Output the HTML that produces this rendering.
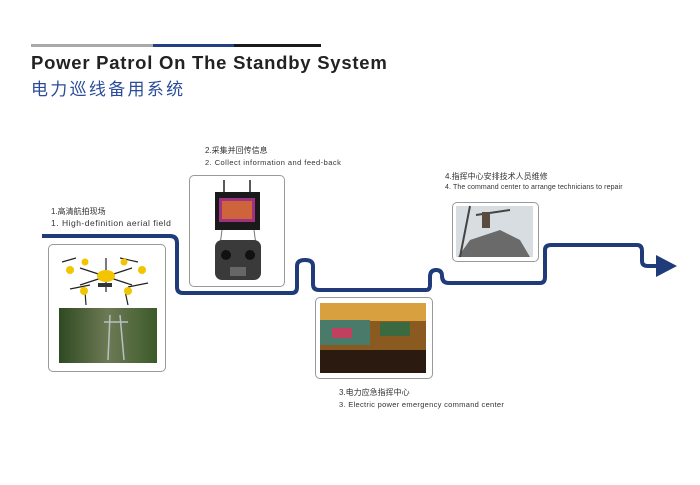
<!DOCTYPE html>
<html><head><meta charset="utf-8"><style>
body{margin:0;width:700px;height:485px;background:#fff;overflow:hidden;position:relative;font-family:"Liberation Sans","Noto Sans CJK SC",sans-serif}
.t{position:absolute;white-space:nowrap;color:#333}
.cn{font-size:8px}.en{font-size:7.5px;letter-spacing:0.2px}
.box{position:absolute;border:1px solid #999;border-radius:5px;background:#fff}
</style></head><body>
<div style="position:absolute;left:31px;top:44px;width:122px;height:3px;background:#a9a9a9"></div>
<div style="position:absolute;left:153px;top:44px;width:81px;height:3px;background:#253f86"></div>
<div style="position:absolute;left:234px;top:44px;width:87px;height:3px;background:#1a1a1a"></div>
<div class="t" style="left:31px;top:52px;font-size:18.5px;font-weight:bold;color:#222;letter-spacing:0.75px">Power Patrol On The Standby System</div>
<div class="t" style="left:31px;top:75px;font-size:17px;color:#2b4c9b;letter-spacing:2.3px">电力巡线备用系统</div>

<div class="t cn" style="left:205px;top:145px">2.采集并回传信息</div>
<div class="t en" style="left:205px;top:158px;letter-spacing:0.45px">2. Collect information and feed-back</div>
<div class="t cn" style="left:51px;top:206px">1.高清航拍现场</div>
<div class="t en" style="left:51px;top:218px;font-size:8.5px;letter-spacing:0.5px">1. High-definition aerial field</div>
<div class="t cn" style="left:445px;top:171px">4.指挥中心安排技术人员维修</div>
<div class="t en" style="left:445px;top:184px;font-size:7px;letter-spacing:0.1px">4. The command center to arrange technicians to repair</div>
<div class="t cn" style="left:339px;top:387px">3.电力应急指挥中心</div>
<div class="t en" style="left:339px;top:400px;font-size:7.5px;letter-spacing:0.3px">3. Electric power emergency command center</div>

<div class="box" style="left:48px;top:244px;width:116px;height:126px"></div>
<div class="box" style="left:189px;top:175px;width:94px;height:110px"></div>
<div class="box" style="left:315px;top:297px;width:116px;height:80px"></div>
<div class="box" style="left:452px;top:202px;width:85px;height:58px"></div>

<svg width="700" height="485" style="position:absolute;left:0;top:0">
<defs><linearGradient id="fg" x1="0" x2="1"><stop offset="0" stop-color="#2f4a22"/><stop offset=".5" stop-color="#6d7a55"/><stop offset="1" stop-color="#3c5a2a"/></linearGradient></defs>
<g stroke="#222" stroke-width="1.2">
<line x1="80" y1="268" x2="132" y2="285"/><line x1="132" y1="268" x2="80" y2="285"/>
<line x1="106" y1="258" x2="106" y2="292"/>
<line x1="62" y1="262" x2="76" y2="258"/><line x1="120" y1="258" x2="138" y2="262"/>
<line x1="70" y1="289" x2="90" y2="285"/><line x1="128" y1="287" x2="148" y2="283"/>
<line x1="85" y1="291" x2="86" y2="305"/><line x1="125" y1="291" x2="128" y2="305"/>
</g>
<g fill="#f2c500">
<ellipse cx="106" cy="276" rx="9" ry="6"/>
<circle cx="70" cy="270" r="4"/><circle cx="142" cy="270" r="4"/>
<circle cx="85" cy="262" r="3.5"/><circle cx="124" cy="262" r="3.5"/>
<circle cx="84" cy="291" r="4"/><circle cx="128" cy="291" r="4"/>
</g>
<rect x="98" y="283" width="14" height="4" fill="#333"/>
<rect x="59" y="308" width="98" height="55" fill="url(#fg)"/>
<path d="M110 315 L108 360 M120 315 L124 360 M104 322 L128 322" stroke="#b8c0c0" stroke-width="1.5"/>
<line x1="224" y1="180" x2="224" y2="193" stroke="#222" stroke-width="1.5"/>
<line x1="250" y1="180" x2="250" y2="193" stroke="#222" stroke-width="1.5"/>
<rect x="215" y="192" width="45" height="38" fill="#1a1a1a"/>
<rect x="219" y="198" width="36" height="24" fill="#a03080"/>
<rect x="222" y="201" width="30" height="18" fill="#e07a20" opacity=".7"/>
<line x1="222" y1="230" x2="220" y2="245" stroke="#777"/><line x1="254" y1="230" x2="256" y2="245" stroke="#777"/>
<rect x="215" y="240" width="46" height="40" rx="7" fill="#3a3a3a"/>
<circle cx="226" cy="255" r="5" fill="#111"/><circle cx="250" cy="255" r="5" fill="#111"/>
<rect x="230" y="267" width="16" height="9" fill="#666"/>
<rect x="320" y="303" width="106" height="70" fill="#8a5a20"/>
<rect x="320" y="303" width="106" height="18" fill="#d9a040"/>
<rect x="320" y="320" width="50" height="25" fill="#4a7a6a"/>
<rect x="332" y="328" width="20" height="10" fill="#c04060"/>
<rect x="380" y="322" width="30" height="14" fill="#3c6a40"/>
<rect x="320" y="350" width="106" height="23" fill="#2a1a10"/>
<rect x="456" y="206" width="77" height="51" fill="#d8dde2"/>
<path d="M458 257 L470 240 L500 230 L520 240 L530 257Z" fill="#6a6a6a"/>
<path d="M470 206 L460 257 M476 215 L510 210" stroke="#444" stroke-width="2"/>
<rect x="482" y="212" width="8" height="16" fill="#5a4a40"/>
<path d="M42 236 H170 Q177 236 177 243 V287 Q177 293 183 293 H292 Q297 293 297 287 V266 Q297 260 305 260 Q313 260 313 266 V284 Q313 290 319 290 H426 Q430 290 430 285 V277 Q430 270 436 270 Q442 270 442 276 Q442 283 449 283 H540 Q545 283 545 277 V250 Q545 245 551 245 H637 Q642 245 642 251 V261 Q642 266 648 266 H658" fill="none" stroke="#1f3b7a" stroke-width="4" stroke-linejoin="round"/>
<path d="M656 255 L677 266 L656 277Z" fill="#1f3b7a"/>
</svg>
</body></html>
